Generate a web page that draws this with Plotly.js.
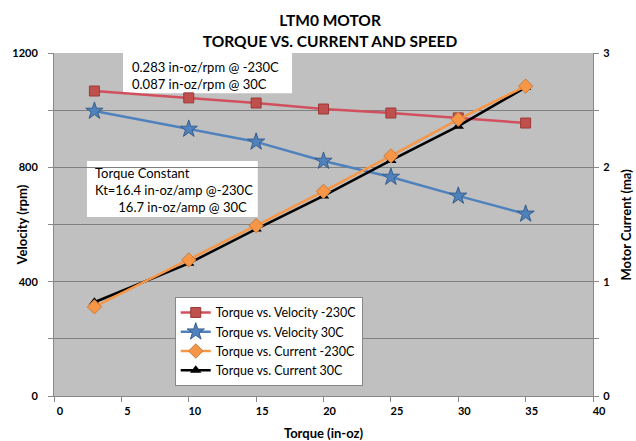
<!DOCTYPE html>
<html>
<head>
<meta charset="utf-8">
<script src="https://cdn.plot.ly/plotly-3.0.1.min.js"></script>
<style>html,body{margin:0;padding:0;background:#fff;}#chart{width:636px;height:441px;}</style>
</head>
<body>
<div id="chart"></div>
<script>
const torque = [3, 10, 15, 20, 25, 30, 35];
const velocityCold = [1067, 1043, 1025, 1004, 990, 973, 955];
const velocityWarm = [997, 934, 889, 822, 766, 700, 637];
const currentCold = [0.78, 1.19, 1.49, 1.79, 2.10, 2.42, 2.71];
const currentWarm = [0.82, 1.16, 1.46, 1.75, 2.06, 2.36, 2.70];
const seriesNames = ["Torque vs. Velocity -230C", "Torque vs. Velocity 30C", "Torque vs. Current -230C", "Torque vs. Current 30C"];

const F = "Lato, 'Liberation Sans', sans-serif";
const traces = [
  {x: torque, y: velocityCold, name: seriesNames[0], mode: 'lines+markers', yaxis: 'y', legendrank: 1,
   line: {color: '#d2505e', width: 2.5}, marker: {symbol: 'square', size: 10, color: '#c0504d', line: {color: '#9a3a38', width: 1}}},
  {x: torque, y: velocityWarm, name: seriesNames[1], mode: 'lines+markers', yaxis: 'y', legendrank: 2,
   line: {color: '#4f81bd', width: 2.5}, marker: {symbol: 'star', size: 13, color: '#4f81bd', line: {color: '#385d8a', width: 1}}},
  {x: torque, y: currentWarm, name: seriesNames[3], mode: 'lines+markers', yaxis: 'y2', legendrank: 4,
   line: {color: '#000000', width: 2.5}, marker: {symbol: 'triangle-up', size: 10, color: '#000000'}},
  {x: torque, y: currentCold, name: seriesNames[2], mode: 'lines+markers', yaxis: 'y2', legendrank: 3,
   line: {color: '#f79646', width: 2.5}, marker: {symbol: 'diamond', size: 11, color: '#f79646', line: {color: '#c77c3a', width: 1}}}
];

const axTitleFont = {family: F, size: 13, color: '#000'};
const layout = {
  width: 636, height: 441,
  margin: {l: 54, r: 43, t: 53, b: 45},
  paper_bgcolor: '#ffffff', plot_bgcolor: '#c0c0c0',
  font: {family: F, size: 12, color: '#000'},
  title: {text: '<b>LTM0 MOTOR<br>TORQUE VS. CURRENT AND SPEED</b>', x: 0.519, xanchor: 'center', y: 0.94, yanchor: 'middle',
          font: {family: F, size: 15.5, color: '#000'}},
  showlegend: true,
  legend: {x: 0.224, y: 0.289, xanchor: 'left', yanchor: 'top', bgcolor: '#ffffff', bordercolor: '#888', borderwidth: 1,
           font: {family: F, size: 12.5, color: '#000'}, tracegroupgap: 0, itemwidth: 30},
  xaxis: {range: [0, 40], dtick: 5, tick0: 0, showgrid: false, zeroline: false, showline: true, linecolor: '#888', linewidth: 1,
          ticks: 'outside', ticklen: 5, tickcolor: '#888', tickfont: {family: F, size: 11, color: '#000', weight: 'bold'}, ticklabelshift: 6,
          title: {text: '<b>Torque (in-oz)</b>', font: axTitleFont, standoff: 12}},
  yaxis: {range: [0, 1200], tickvals: [0, 400, 800, 1200], showgrid: true, gridcolor: '#808080', gridwidth: 1, zeroline: false,
          showline: true, linecolor: '#888', ticks: 'outside', ticklen: 5, tickcolor: '#888', ticklabelstandoff: 8,
          minor: {dtick: 200, tick0: 0, showgrid: true, gridcolor: '#808080', gridwidth: 1, ticks: 'outside', ticklen: 5, tickcolor: '#888'},
          tickfont: {family: F, size: 11, color: '#000', weight: 'bold'}},
  yaxis2: {range: [0, 3], dtick: 1, tick0: 0, overlaying: 'y', side: 'right', showgrid: false, zeroline: false,
           showline: true, linecolor: '#888', ticks: 'outside', ticklen: 5, tickcolor: '#888', ticklabelstandoff: 2,
           minor: {dtick: 0.5, ticks: 'outside', ticklen: 5, tickcolor: '#888', showgrid: false},
           tickfont: {family: F, size: 11, color: '#000', weight: 'bold'}},
  shapes: [
    {type: 'rect', xref: 'paper', yref: 'paper', x0: 0.128, x1: 0.4416, y0: 0.883, y1: 1.0, fillcolor: '#ffffff', line: {width: 0}, layer: 'between'},
    {type: 'rect', xref: 'paper', yref: 'paper', x0: 0.0612, x1: 0.378, y0: 0.522, y1: 0.685, fillcolor: '#ffffff', line: {width: 0}, layer: 'between'}
  ],
  annotations: [
    {xref: 'paper', yref: 'paper', x: 0.141, y: 0.934, xanchor: 'left', yanchor: 'middle', align: 'left', showarrow: false,
     text: '0.283 in-oz/rpm @ -230C<br>0.087 in-oz/rpm @ 30C', font: {family: F, size: 13, color: '#000'}},
    {xref: 'paper', yref: 'paper', x: 0.0724, y: 0.6006, xanchor: 'left', yanchor: 'middle', align: 'left', showarrow: false,
     text: 'Torque Constant<br>Kt=16.4 in-oz/amp @-230C<br>\u00a0\u00a0\u00a0\u00a0\u00a0\u00a0\u00a016.7 in-oz/amp @ 30C', font: {family: F, size: 13, color: '#000'}},
    {xref: 'paper', yref: 'paper', x: -0.0594, y: 0.5, xanchor: 'center', yanchor: 'middle', textangle: -90, showarrow: false,
     text: '<b>Velocity (rpm)</b>', font: axTitleFont},
    {xref: 'paper', yref: 'paper', x: 1.0612, y: 0.5, xanchor: 'center', yanchor: 'middle', textangle: -90, showarrow: false,
     text: '<b>Motor Current (ma)</b>', font: axTitleFont}
  ]
};
Plotly.newPlot('chart', traces, layout, {displayModeBar: false, staticPlot: true});
</script>
</body>
</html>
